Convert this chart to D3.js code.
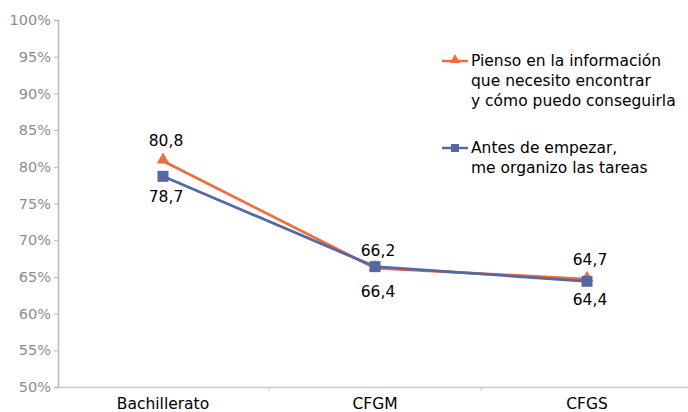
<!DOCTYPE html>
<html><head><meta charset="utf-8">
<script src="https://cdn.jsdelivr.net/npm/d3@7"></script>
<style>body{margin:0;background:#fff}svg{display:block}text{font-family:"DejaVu Sans",Verdana,sans-serif}</style>
</head><body><svg id="c" width="688" height="412"></svg>
<script>
const categories = ["Bachillerato", "CFGM", "CFGS"];
const seriesNames = ["Pienso en la información|que necesito encontrar|y cómo puedo conseguirla", "Antes de empezar,|me organizo las tareas"];
const piensoValues = [80.8, 66.2, 64.7];
const antesValues = [78.7, 66.4, 64.4];
const yTicks = [50, 55, 60, 65, 70, 75, 80, 85, 90, 95, 100];
const labelsPienso = ["80,8", "66,2", "64,7"];
const labelsAntes = ["78,7", "66,4", "64,4"];

const svg = d3.select("#c");
const x = d3.scaleBand().domain(categories).range([57, 693]);
const y = d3.scaleLinear().domain([50, 100]).range([387, 20]);
const orange = "#f26d3a", blue = "#5767a6";

// y axis
const ya = svg.append("g").attr("transform", "translate(58,0)")
  .call(d3.axisLeft(y).tickValues(yTicks).tickFormat(d => d + "%").tickSize(4).tickPadding(3));
ya.select(".domain").attr("stroke", "#b8b8b8").attr("stroke-width", 1.5);
ya.selectAll(".tick line").attr("stroke", "#b8b8b8");
ya.selectAll("text").attr("fill", "#8c8c8c").style("font-size", "14.5px");

// x axis
const xa = svg.append("g").attr("transform", "translate(0,387)")
  .call(d3.axisBottom(x).tickSize(0).tickPadding(11));
xa.select(".domain").attr("stroke", "#c8c8c8").attr("stroke-width", 1.5);
xa.selectAll("text").attr("fill", "#000").style("font-size", "15.5px");
// band boundary ticks
xa.selectAll(".bt").data(categories.slice(1)).join("line").attr("class", "bt")
  .attr("x1", d => x(d)).attr("x2", d => x(d)).attr("y1", 0).attr("y2", 4).attr("stroke", "#c8c8c8");

const cx = d => x(d) + x.bandwidth() / 2;
const line = d3.line().x((d, i) => cx(categories[i])).y(d => y(d));

// lines
svg.append("path").datum(piensoValues).attr("d", line).attr("fill", "none").attr("stroke", orange).attr("stroke-width", 2.75);
svg.append("path").datum(antesValues).attr("d", line).attr("fill", "none").attr("stroke", blue).attr("stroke-width", 2.75);

const tri = d3.symbol().type(d3.symbolTriangle).size(70);
svg.selectAll(".tp").data(piensoValues).join("path").attr("class", "tp")
  .attr("d", tri).attr("fill", orange)
  .attr("transform", (d, i) => `translate(${cx(categories[i])},${y(d) - 1})`);
svg.selectAll(".sq").data(antesValues).join("rect").attr("class", "sq")
  .attr("x", (d, i) => cx(categories[i]) - 5.5).attr("y", d => y(d) - 5.5)
  .attr("width", 11).attr("height", 11).attr("fill", blue);

// data labels
const lbl = (vals, texts, dy) => svg.append("g").selectAll("text").data(vals).join("text")
  .attr("x", (d, i) => cx(categories[i]) + 3).attr("y", (d, i) => y(d) + dy[i])
  .attr("text-anchor", "middle").attr("fill", "#000").style("font-size", "15.5px").text((d, i) => texts[i]);
lbl(piensoValues, labelsPienso, [-15, -12, -14]);
lbl(antesValues, labelsAntes, [26, 30, 24]);

// legend
const leg = [{name: seriesNames[0], c: orange, t: "tri", y: 61}, {name: seriesNames[1], c: blue, t: "sq", y: 148}];
leg.forEach(l => {
  const g = svg.append("g");
  g.append("line").attr("x1", 442).attr("x2", 468).attr("y1", l.y).attr("y2", l.y).attr("stroke", l.c).attr("stroke-width", 2.5);
  if (l.t === "tri") g.append("path").attr("d", d3.symbol().type(d3.symbolTriangle).size(45)).attr("fill", l.c).attr("transform", `translate(455,${l.y - 1})`);
  else g.append("rect").attr("x", 451).attr("y", l.y - 4).attr("width", 8).attr("height", 8).attr("fill", l.c);
  const t = g.append("text").attr("x", 471).attr("y", l.y + 5).attr("fill", "#000").style("font-size", "15.5px");
  l.name.split("|").forEach((s, i) => t.append("tspan").attr("x", 471).attr("dy", i ? 20 : 0).text(s));
});
</script></body></html>
